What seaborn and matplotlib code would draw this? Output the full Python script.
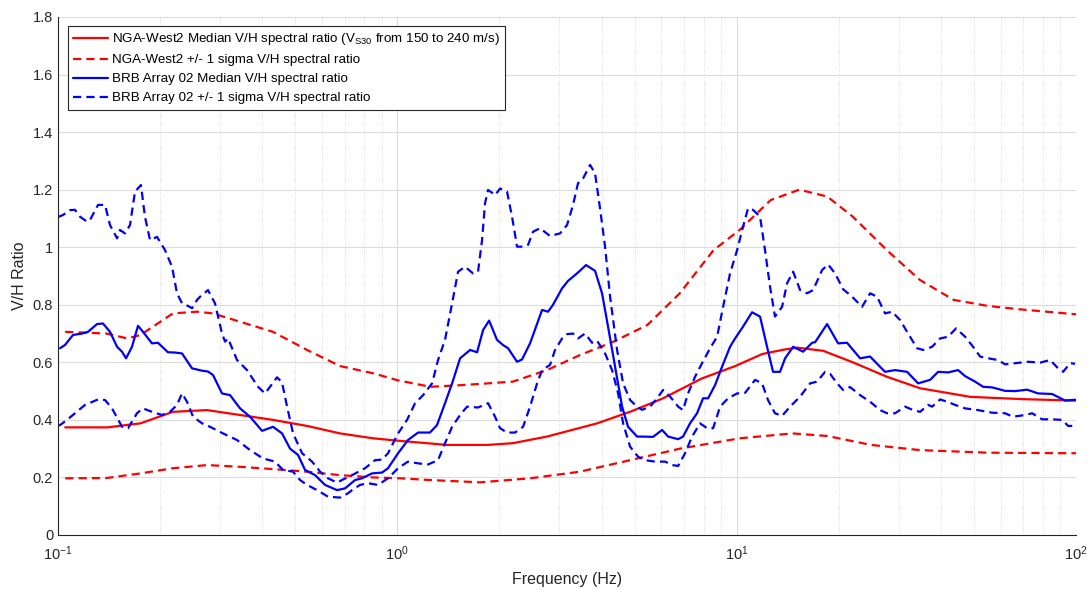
import numpy as np
import pandas as pd
import matplotlib
matplotlib.use('Agg')
import matplotlib.pyplot as plt
from matplotlib.ticker import LogLocator, NullFormatter
import seaborn as sns

# NGA-West2 model
nga_med_f = [0.105, 0.14, 0.175, 0.218, 0.275, 0.344, 0.43, 0.542, 0.678, 0.848, 1.02, 1.4, 1.84, 2.19,
             2.76, 3.88, 4.9, 6.07, 7.9, 9.9, 11.9, 13.9, 15.1, 18, 22, 27.7, 34.7, 48.8, 70, 100]
nga_med = [0.374, 0.374, 0.388, 0.428, 0.434, 0.417, 0.40, 0.379, 0.353, 0.336, 0.327, 0.313, 0.313, 0.319,
           0.342, 0.388, 0.43, 0.475, 0.544, 0.587, 0.629, 0.645, 0.651, 0.64, 0.60, 0.55, 0.51, 0.48, 0.472, 0.467]

nga_hi_f = [0.105, 0.139, 0.16, 0.175, 0.218, 0.257, 0.286, 0.344, 0.43, 0.542, 0.678, 0.848, 1.0, 1.25,
            1.56, 2.19, 2.76, 3.45, 4.34, 5.46, 6.8, 8.55, 10.2, 11.2, 12.6, 15.3, 18.5, 22, 27.7, 34.7,
            43.6, 55, 68.6, 100]
nga_hi = [0.706, 0.70, 0.683, 0.695, 0.77, 0.776, 0.77, 0.741, 0.706, 0.643, 0.587, 0.562, 0.538, 0.515,
          0.521, 0.533, 0.573, 0.625, 0.672, 0.73, 0.84, 0.99, 1.06, 1.106, 1.164, 1.20, 1.176, 1.106, 0.99,
          0.886, 0.817, 0.796, 0.784, 0.767]

nga_lo_f = [0.105, 0.139, 0.175, 0.218, 0.275, 0.344, 0.43, 0.542, 0.678, 0.848, 1.02, 1.25, 1.75, 2.46,
            3.45, 4.85, 6.8, 10.2, 14.6, 18.5, 24.9, 34.7, 55, 100]
nga_lo = [0.197, 0.198, 0.214, 0.232, 0.243, 0.237, 0.229, 0.22, 0.208, 0.20, 0.197, 0.191, 0.183, 0.197,
          0.22, 0.26, 0.30, 0.336, 0.353, 0.344, 0.313, 0.295, 0.286, 0.284]

# BRB Array 02 measured ratios
brb_med_f = [0.1014, 0.1048, 0.1107, 0.1177, 0.1226, 0.1303, 0.1357, 0.1423, 0.1493, 0.1544, 0.1587, 0.1652,
             0.1721, 0.1780, 0.1892, 0.1971, 0.2109, 0.2212, 0.2320, 0.2483, 0.2658, 0.2767, 0.2863, 0.3043,
             0.3214, 0.3439, 0.3681, 0.3993, 0.4302, 0.4574, 0.4830, 0.5099, 0.5346, 0.5722, 0.6124, 0.6643,
             0.7013, 0.7505, 0.7868, 0.8423, 0.9014, 0.9388, 1.005, 1.075, 1.151, 1.248, 1.309, 1.382, 1.450,
             1.531, 1.638, 1.718, 1.789, 1.864, 1.967, 2.049, 2.120, 2.253, 2.331, 2.461, 2.670, 2.781, 2.876,
             3.058, 3.184, 3.384, 3.599, 3.825, 4.011, 4.178, 4.382, 4.596, 4.786, 5.088, 5.300, 5.671, 6.029,
             6.280, 6.722, 6.950, 7.288, 7.643, 7.961, 8.238, 8.638, 9.058, 9.561, 9.892, 10.44, 11.10, 11.72,
             12.29, 12.80, 13.42, 13.89, 14.67, 15.70, 16.69, 17.03, 18.47, 19.90, 21.15, 23.11, 24.73, 27.37,
             29.30, 31.78, 34.25, 37.15, 39.23, 41.99, 44.94, 47.12, 50.42, 53.24, 56.59, 61.80, 66.14, 71.76,
             77.33, 85.05, 92.88, 99.40]
brb_med = [0.649, 0.66, 0.695, 0.70, 0.706, 0.733, 0.735, 0.706, 0.654, 0.637, 0.614, 0.654,
           0.727, 0.706, 0.666, 0.668, 0.635, 0.634, 0.631, 0.579, 0.571, 0.568, 0.556, 0.492,
           0.486, 0.44, 0.411, 0.362, 0.376, 0.353, 0.30, 0.278, 0.226, 0.208, 0.174, 0.156,
           0.162, 0.191, 0.197, 0.214, 0.217, 0.232, 0.284, 0.33, 0.356, 0.356, 0.382, 0.458, 0.527,
           0.614, 0.643, 0.635, 0.712, 0.745, 0.678, 0.66, 0.649, 0.602, 0.61, 0.666, 0.782, 0.776, 0.80,
           0.857, 0.883, 0.909, 0.938, 0.918, 0.84, 0.724, 0.585, 0.446, 0.376, 0.342, 0.342, 0.341, 0.365,
           0.342, 0.333, 0.342, 0.388, 0.423, 0.475, 0.475, 0.521, 0.585, 0.654, 0.683, 0.724, 0.774, 0.759,
           0.654, 0.567, 0.567, 0.614, 0.654, 0.637, 0.668, 0.67, 0.733, 0.666, 0.668, 0.614, 0.62, 0.567,
           0.573, 0.567, 0.527, 0.539, 0.567, 0.565, 0.573, 0.552, 0.533, 0.515, 0.513, 0.501, 0.50, 0.505,
           0.492, 0.49, 0.467, 0.47]

brb_hi_f = [0.1, 0.1034, 0.1085, 0.1122, 0.1161, 0.1217, 0.1243, 0.1312, 0.1376, 0.1423, 0.1493, 0.1523,
            0.1576, 0.1630, 0.1686, 0.1756, 0.1804, 0.1867, 0.1958, 0.2067, 0.2168, 0.2242, 0.2320, 0.2416,
            0.2483, 0.2569, 0.2622, 0.2767, 0.2902, 0.3043, 0.3106, 0.3170, 0.3370, 0.3606, 0.3886, 0.4075,
            0.4216, 0.4421, 0.4574, 0.4732, 0.4929, 0.5240, 0.5607, 0.5920, 0.6250, 0.6643, 0.6918, 0.7354,
            0.8031, 0.8599, 0.9014, 0.9388, 1.005, 1.068, 1.128, 1.191, 1.266, 1.318, 1.382, 1.450, 1.510,
            1.583, 1.672, 1.729, 1.777, 1.813, 1.851, 1.914, 1.941, 2.008, 2.105, 2.178, 2.253, 2.347, 2.428,
            2.512, 2.634, 2.818, 3.016, 3.163, 3.294, 3.407, 3.526, 3.698, 3.825, 3.957, 4.094, 4.236, 4.442,
            4.627, 4.852, 5.088, 5.264, 5.557, 5.827, 6.070, 6.365, 6.722, 6.950, 7.190, 7.540, 7.907, 8.350,
            8.757, 9.120, 9.561, 10.03, 10.44, 10.80, 11.17, 11.72, 12.12, 12.54, 12.97, 13.61, 14.08, 14.67,
            15.38, 16.13, 16.80, 17.86, 18.60, 19.50, 20.59, 21.89, 23.42, 24.73, 25.93, 27.37, 28.71, 30.31,
            32.00, 34.02, 35.43, 37.66, 39.77, 41.99, 44.33, 47.12, 49.74, 52.17, 55.08, 58.94, 61.80, 66.14,
            72.25, 78.39, 83.90, 88.59, 91.62, 96.10, 99.40]
brb_hi = [1.105, 1.112, 1.129, 1.13, 1.106, 1.089, 1.095, 1.147, 1.147, 1.077, 1.031, 1.06,
          1.048, 1.077, 1.193, 1.216, 1.106, 1.025, 1.036, 0.99, 0.932, 0.84, 0.805, 0.796,
          0.788, 0.817, 0.828, 0.851, 0.805, 0.70, 0.672, 0.683, 0.608, 0.573, 0.515, 0.492,
          0.515, 0.548, 0.53, 0.446, 0.353, 0.284, 0.255, 0.22, 0.197, 0.182, 0.193, 0.208,
          0.232, 0.26, 0.262, 0.284, 0.353, 0.40, 0.458, 0.486, 0.527, 0.608, 0.678, 0.805, 0.915,
          0.932, 0.909, 0.915, 1.025, 1.153, 1.199, 1.187, 1.181, 1.204, 1.193, 1.106, 1.002, 1.002, 1.008,
          1.054, 1.066, 1.039, 1.048, 1.077, 1.147, 1.222, 1.239, 1.286, 1.257, 1.135, 1.002, 0.828, 0.643,
          0.527, 0.469, 0.446, 0.435, 0.446, 0.475, 0.504, 0.481, 0.446, 0.434, 0.492, 0.55, 0.597, 0.649,
          0.689, 0.793, 0.909, 0.99, 1.071, 1.135, 1.13, 1.106, 0.99, 0.863, 0.759, 0.793, 0.875, 0.915,
          0.851, 0.84, 0.851, 0.921, 0.94, 0.909, 0.854, 0.828, 0.793, 0.84, 0.828, 0.77, 0.776, 0.747,
          0.70, 0.649, 0.643, 0.654, 0.683, 0.689, 0.718, 0.689, 0.654, 0.62, 0.614, 0.608, 0.593, 0.597,
          0.602, 0.599, 0.608, 0.579, 0.567, 0.597, 0.595]

brb_lo_f = [0.1, 0.1014, 0.1063, 0.1122, 0.1201, 0.1312, 0.1376, 0.1443, 0.1544, 0.1608, 0.1709, 0.1780,
            0.1892, 0.2025, 0.2138, 0.2242, 0.2320, 0.2400, 0.2500, 0.2658, 0.2805, 0.3064, 0.3370, 0.3681,
            0.4020, 0.4361, 0.4605, 0.4929, 0.5169, 0.5420, 0.5800, 0.6250, 0.6779, 0.7156, 0.7354, 0.7762,
            0.8196, 0.8772, 0.9388, 1.005, 1.075, 1.151, 1.231, 1.318, 1.382, 1.450, 1.531, 1.605, 1.729,
            1.851, 1.941, 2.008, 2.105, 2.223, 2.347, 2.461, 2.581, 2.670, 2.818, 2.916, 3.058, 3.163, 3.294,
            3.407, 3.574, 3.748, 3.878, 4.094, 4.294, 4.473, 4.627, 4.852, 5.123, 5.370, 5.749, 6.152, 6.453,
            6.722, 7.044, 7.389, 7.800, 8.182, 8.522, 8.937, 9.434, 10.03, 10.59, 11.33, 11.88, 12.37, 12.97,
            13.61, 14.37, 15.38, 16.46, 17.26, 18.22, 18.85, 19.77, 20.59, 21.59, 23.11, 24.73, 26.46, 27.75,
            29.30, 31.36, 33.11, 34.72, 36.65, 37.66, 39.77, 41.99, 44.03, 47.12, 51.46, 56.59, 61.80, 65.25,
            70.79, 74.24, 79.46, 85.05, 91.03, 94.80, 99.40]
brb_lo = [0.38, 0.382, 0.40, 0.423, 0.452, 0.471, 0.469, 0.44, 0.376, 0.371, 0.423, 0.44,
          0.428, 0.417, 0.428, 0.452, 0.492, 0.463, 0.411, 0.388, 0.376, 0.353, 0.33, 0.295,
          0.266, 0.255, 0.226, 0.22, 0.191, 0.174, 0.156, 0.133, 0.13, 0.145, 0.156, 0.174,
          0.18, 0.174, 0.197, 0.232, 0.255, 0.249, 0.245, 0.26, 0.319, 0.376, 0.417, 0.446, 0.443,
          0.458, 0.411, 0.371, 0.356, 0.356, 0.376, 0.446, 0.527, 0.573, 0.591, 0.643, 0.683, 0.698, 0.70,
          0.683, 0.70, 0.668, 0.675, 0.631, 0.573, 0.492, 0.388, 0.307, 0.272, 0.26, 0.255, 0.255, 0.243,
          0.24, 0.284, 0.342, 0.388, 0.371, 0.371, 0.446, 0.475, 0.492, 0.494, 0.539, 0.527, 0.469, 0.423,
          0.414, 0.446, 0.481, 0.527, 0.533, 0.567, 0.56, 0.527, 0.504, 0.514, 0.486, 0.463, 0.434, 0.423,
          0.423, 0.446, 0.434, 0.428, 0.452, 0.446, 0.471, 0.462, 0.452, 0.44, 0.434, 0.425, 0.423, 0.411,
          0.417, 0.423, 0.402, 0.402, 0.40, 0.379, 0.379]

legend_labels = ['NGA-West2 Median V/H spectral ratio (V$_{\\mathregular{S30}}$ from 150 to 240 m/s)',
                 'NGA-West2 +/- 1 sigma V/H spectral ratio',
                 'BRB Array 02 Median V/H spectral ratio',
                 'BRB Array 02 +/- 1 sigma V/H spectral ratio']
ytick_vals = [0, 0.2, 0.4, 0.6, 0.8, 1.0, 1.2, 1.4, 1.6, 1.8]
ytick_labels = ['0', '0.2', '0.4', '0.6', '0.8', '1', '1.2', '1.4', '1.6', '1.8']

sns.set_style('white')
plt.rcParams['font.family'] = ['Liberation Sans', 'DejaVu Sans']
plt.rcParams['mathtext.fontset'] = 'custom'
plt.rcParams['mathtext.rm'] = 'Liberation Sans'
plt.rcParams['mathtext.it'] = 'Liberation Sans:italic'
plt.rcParams['mathtext.bf'] = 'Liberation Sans:bold'
plt.rcParams['axes.unicode_minus'] = False

dark = '#262626'
fig = plt.figure(figsize=(10.9, 5.9), dpi=100)
ax = fig.add_axes([58/1090, 55/590, 1018/1090, 518/590])
ax.set_xscale('log')

lw = 1.6
dash = (3.7, 2.3)
series = [(nga_med_f, nga_med, 'red', False),
          (nga_hi_f, nga_hi, 'red', True),
          (nga_lo_f, nga_lo, 'red', True),
          (brb_med_f, brb_med, 'blue', False),
          (brb_hi_f, brb_hi, 'blue', True),
          (brb_lo_f, brb_lo, 'blue', True)]
lines = []
for fx, vy, col, dashed in series:
    df = pd.DataFrame({'Frequency': fx, 'Ratio': vy})
    sns.lineplot(data=df, x='Frequency', y='Ratio', ax=ax, color=col, linewidth=lw,
                 estimator=None, sort=False)
    ln = ax.lines[-1]
    if dashed:
        ln.set_dashes(dash)
    lines.append(ln)

ax.set_xlim(0.1, 100)
ax.set_ylim(0, 1.8)
ax.set_yticks(ytick_vals)
ax.set_yticklabels(ytick_labels)
ax.xaxis.set_major_locator(LogLocator(base=10, numticks=10))
ax.xaxis.set_minor_locator(LogLocator(base=10, subs=np.arange(2, 10), numticks=20))
ax.xaxis.set_minor_formatter(NullFormatter())

ax.grid(True, which='major', color='#dcdcdc', linewidth=0.8)
ax.grid(True, which='minor', axis='x', color='#d6d6d6', linestyle=':', linewidth=0.6)
ax.set_axisbelow(True)

for s in ['top', 'right']:
    ax.spines[s].set_visible(False)
for s in ['left', 'bottom']:
    ax.spines[s].set_color(dark)
    ax.spines[s].set_linewidth(0.8)
ax.tick_params(axis='both', which='both', direction='in', colors=dark, labelsize=10.5,
               length=5, width=0.7)
ax.tick_params(axis='x', which='minor', length=4)
ax.tick_params(axis='x', pad=7)

ax.set_xlabel('Frequency (Hz)', fontsize=11.5, color=dark, labelpad=6)
ax.set_ylabel('V/H Ratio', fontsize=11.5, color=dark, labelpad=4)

handles = [lines[0], lines[1], lines[3], lines[4]]
leg = ax.legend(handles, legend_labels, loc='upper left', bbox_to_anchor=(0.0098, 0.9826),
                borderaxespad=0, fontsize=9.6, frameon=True, fancybox=False, framealpha=1,
                edgecolor=dark, handlelength=2.6, handletextpad=0.3, labelspacing=0.5,
                borderpad=0.4)
leg.get_frame().set_linewidth(0.8)
for t in leg.get_texts():
    t.set_color('black')

fig.savefig('out.png', dpi=100)
